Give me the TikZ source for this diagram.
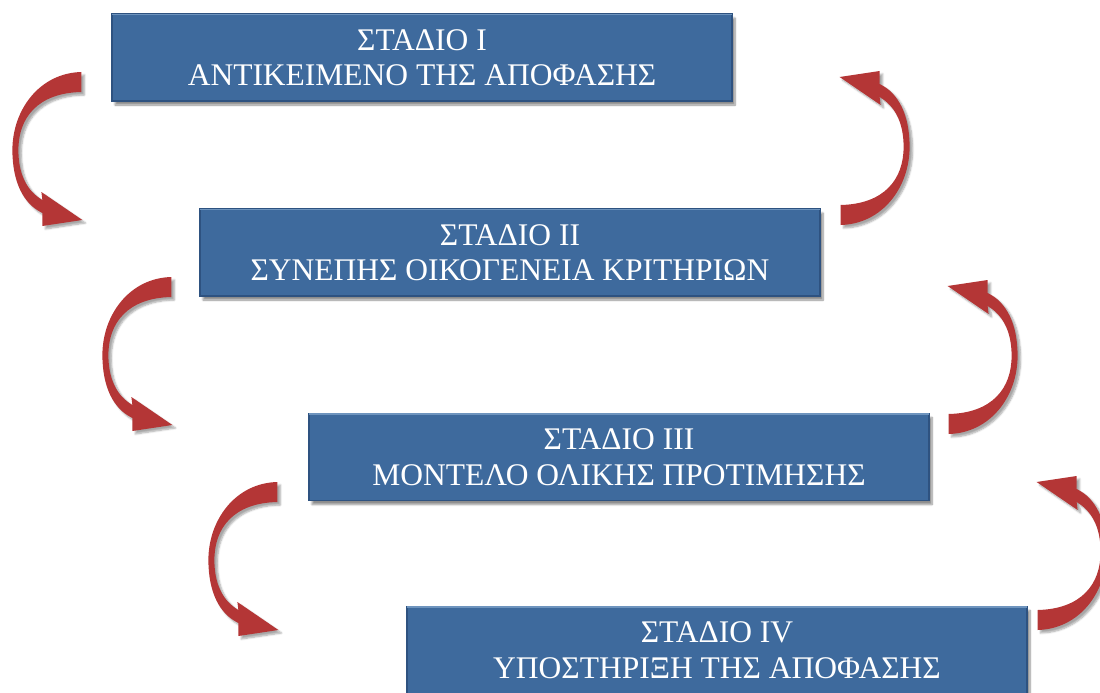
\documentclass[tikz,border=0pt]{standalone}
\usepackage{fontspec}
\setmainfont{Liberation Serif}
\usetikzlibrary{shadows.blur,calc}
\definecolor{stagefill}{RGB}{62,106,157}
\definecolor{stagerim}{RGB}{46,82,128}
\definecolor{stagelight}{RGB}{110,148,190}
\definecolor{loopred}{RGB}{180,54,54}
\tikzset{
  stage/.style={rectangle, fill=stagefill, draw=stagerim, line width=1.2pt,
    minimum width=620pt, minimum height=87pt, inner sep=0pt, align=center,
    text=white, font=\fontsize{31.5}{35.5}\selectfont,
    blur shadow={shadow xshift=3pt, shadow yshift=-4pt, shadow blur steps=8, shadow opacity=45}},
  looparrow/.style={fill=loopred,
    blur shadow={shadow xshift=3pt, shadow yshift=-3pt, shadow blur steps=6, shadow opacity=35}},
  % curved ribbon arrow: tail at the origin, bulging to the left, head pointing right
  pics/turn/.style={code={
    \fill[looparrow] (0,-10) .. controls (-42,-9) and (-69,28) .. (-69,68)
      .. controls (-69,100) and (-58,122) .. (-39,131)
      -- (-39,144) -- (1,138) -- (-40,110) -- (-39,118)
      .. controls (-56,108) and (-63,90) .. (-63,68)
      .. controls (-63,36) and (-44,11) .. (0,10) -- cycle;
  }}
}
\begin{document}
\begin{tikzpicture}[x=1pt,y=-1pt]
\useasboundingbox (0,0) rectangle (1100,693);

\node[stage] (s1) at (422,57.5) {ΣΤΑΔΙΟ I\\ΑΝΤΙΚΕΙΜΕΝΟ ΤΗΣ ΑΠΟΦΑΣΗΣ};
\node[stage] (s2) at (510,252.5) {ΣΤΑΔΙΟ II\\ΣΥΝΕΠΗΣ ΟΙΚΟΓΕΝΕΙΑ ΚΡΙΤΗΡΙΩΝ};
\node[stage] (s3) at (619,457) {ΣΤΑΔΙΟ III\\ΜΟΝΤΕΛΟ ΟΛΙΚΗΣ ΠΡΟΤΙΜΗΣΗΣ};
\node[stage] (s4) at (717,650) {ΣΤΑΔΙΟ IV\\ΥΠΟΣΤΗΡΙΞΗ ΤΗΣ ΑΠΟΦΑΣΗΣ};

% highlight along the top edge of each box
\foreach \s in {s1,s2,s3,s4}
  \draw[stagelight, line width=1.2pt] ([xshift=1pt,yshift=-1pt]\s.north west) -- ([xshift=-1pt,yshift=-1pt]\s.north east);

% downward loops on the left
\pic at ($(s1.west)+(-30,24.5)$) {turn};
\pic at ($(s2.west)+(-28,34.5)$) {turn};
\pic at ($(s3.west)+(-31,35)$) {turn};

% upward loops on the right
\pic[rotate=180] at ($(s2.east)+(20,-37.5)$) {turn};
\pic[rotate=180] at ($(s3.east)+(19,-33)$) {turn};
\pic[rotate=180] at ($(s4.east)+(10,-30)$) {turn};
\end{tikzpicture}
\end{document}
